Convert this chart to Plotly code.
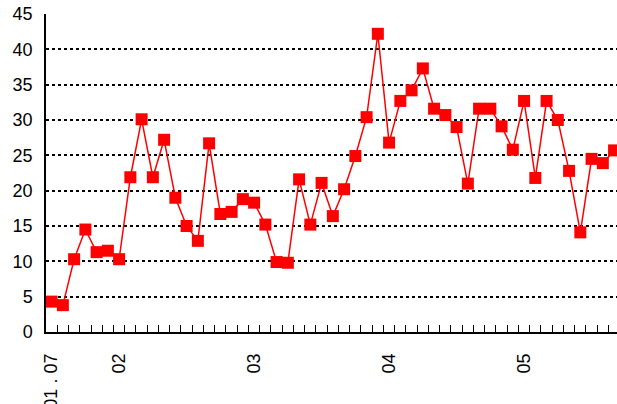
import plotly.graph_objects as go

months = [f"{2001 + (6 + i) // 12}-{(6 + i) % 12 + 1:02d}" for i in range(51)]
values = [4.3, 3.8, 10.3, 14.5, 11.3, 11.5, 10.3, 21.9, 30.1, 21.9,
          27.2, 19.0, 15.0, 12.9, 26.7, 16.7, 17.0, 18.8, 18.3, 15.2,
          9.9, 9.8, 21.6, 15.2, 21.1, 16.4, 20.2, 24.9, 30.4, 42.2,
          26.8, 32.7, 34.2, 37.3, 31.6, 30.7, 29.0, 21.0, 31.6, 31.6,
          29.1, 25.8, 32.7, 21.8, 32.7, 30.0, 22.8, 14.1, 24.5, 23.9, 25.7]
tick_months = ["2001-07", "2002-01", "2003-01", "2004-01", "2005-01"]
tick_labels = ["01 . 07", "02", "03", "04", "05"]
y_ticks = list(range(0, 50, 5))

x = list(range(len(months)))
tickvals = [months.index(m) for m in tick_months]
boundaries = [i - 0.5 for i in range(len(months) + 1)]
x_range = [-0.5, 50.26]

fig = go.Figure(go.Scatter(
    x=x, y=values, mode="lines+markers",
    line=dict(color="#ff0000", width=1.5),
    marker=dict(symbol="square", size=12, color="#ff0000"),
    cliponaxis=True,
))

fig.update_layout(
    width=617, height=404,
    margin=dict(l=46, r=0, t=14, b=72),
    paper_bgcolor="white", plot_bgcolor="white",
    showlegend=False,
    font=dict(family="Liberation Sans, Arial, sans-serif", size=18, color="black"),
    xaxis=dict(
        range=x_range, automargin=False,
        tickmode="array", tickvals=boundaries, ticktext=[""] * len(boundaries),
        ticks="inside", ticklen=7, tickcolor="black", tickwidth=1,
        showgrid=False, zeroline=False,
        showline=True, linecolor="black", linewidth=1.5,
    ),
    xaxis2=dict(
        overlaying="x", side="bottom", range=x_range, automargin=False,
        tickmode="array", tickvals=tickvals, ticktext=tick_labels,
        tickangle=-90, ticks="", ticklabelstandoff=17,
        showgrid=False, zeroline=False, showline=False,
    ),
    yaxis=dict(
        range=[0, 45], tickmode="array", tickvals=y_ticks, automargin=False,
        ticks="", ticklabelstandoff=8,
        showgrid=True, gridcolor="black", gridwidth=1.5, griddash="dot",
        zeroline=False, showline=True, linecolor="black", linewidth=1.5,
    ),
)
# invisible trace to activate the label axis
fig.add_trace(go.Scatter(x=[x[0]], y=[values[0]], xaxis="x2", mode="markers",
                         marker=dict(opacity=0), hoverinfo="skip"))

fig.write_html("out.html", config={"displayModeBar": False},
               post_script="document.body.style.margin='0';document.body.style.overflow='hidden';")
